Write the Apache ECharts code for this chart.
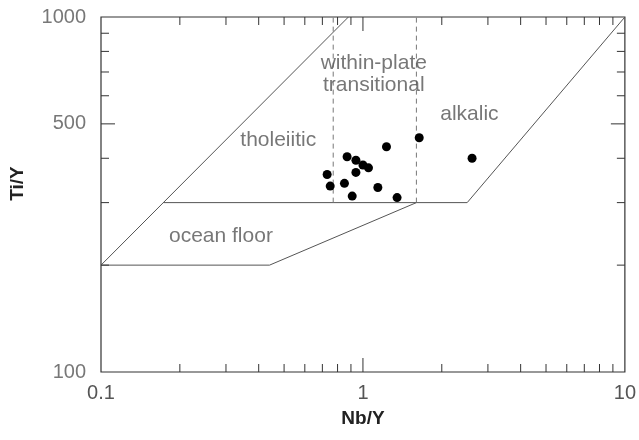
<!DOCTYPE html>
<html>
<head>
<meta charset="utf-8">
<script src="https://cdn.jsdelivr.net/npm/echarts@6/dist/echarts.min.js"></script>
<style>
  html, body { margin: 0; padding: 0; background: #fff; }
  #main { width: 639px; height: 440px; }
</style>
</head>
<body>
<div id="main"></div>
<script>
// sample points (Nb/Y, Ti/Y)
var sampleNbY = [0.73, 0.75, 0.87, 0.94, 0.94, 1.0, 1.05, 0.85, 0.91, 1.14, 1.23, 1.35, 1.64, 2.61];
var sampleTiY = [360, 334, 404, 395, 365, 383, 376, 340, 313, 331, 431, 310, 457, 400];

// field boundaries
var leftEdgeX = [0.1, 0.88];
var leftEdgeY = [200, 1000];
var baseRightX = [0.173, 2.5, 10];
var baseRightY = [300, 300, 1000];
var oceanX = [0.1, 0.44, 1.6];
var oceanY = [200, 200, 300];
var dashLeftX = [0.77, 0.77];
var dashRightX = [1.6, 1.6];
var dashY = [300, 1000];

// field names
var fieldNames = ['tholeiitic', 'within-plate\ntransitional', 'alkalic', 'ocean floor'];
var fieldX = [0.475, 1.1, 2.55, 0.287];
var fieldY = [450, 690, 533, 242];

// ticks
var xMinorTicks = [0.2, 0.3, 0.4, 0.5, 0.6, 0.7, 0.8, 0.9, 2, 3, 4, 5, 6, 7, 8, 9];
var xMajorTicks = [1];
var yMinorTicks = [200, 300, 400, 600, 700, 800, 900];
var yMajorTicks = [500];
var yLabels = [100, 500, 1000];

var xMin = 0.1, xMax = 10, yMin = 100, yMax = 1000;

function zip(xs, ys) {
  return xs.map(function (x, i) { return [x, ys[i]]; });
}

function lineSeries(xs, ys, dashed) {
  return {
    type: 'line',
    data: zip(xs, ys),
    symbol: 'none',
    silent: true,
    clip: false,
    lineStyle: dashed
      ? { color: '#777', width: 1, type: [5, 4] }
      : { color: '#555', width: 1 },
    z: 2
  };
}

function tickSeries(values, dim, len) {
  var data = values.map(function (v) {
    return dim === 'x' ? [v, yMin] : [xMin, v];
  });
  return {
    type: 'custom',
    silent: true,
    data: data,
    z: 3,
    renderItem: function (params, api) {
      var st = { stroke: '#333', lineWidth: 1 };
      if (dim === 'x') {
        var v = api.value(0);
        var b = api.coord([v, yMin]);
        var t = api.coord([v, yMax]);
        return { type: 'group', children: [
          { type: 'line', shape: { x1: b[0], y1: b[1], x2: b[0], y2: b[1] - len }, style: st },
          { type: 'line', shape: { x1: t[0], y1: t[1], x2: t[0], y2: t[1] + len }, style: st }
        ] };
      }
      var w = api.value(1);
      var l = api.coord([xMin, w]);
      var r = api.coord([xMax, w]);
      return { type: 'group', children: [
        { type: 'line', shape: { x1: l[0], y1: l[1], x2: l[0] + len, y2: l[1] }, style: st },
        { type: 'line', shape: { x1: r[0], y1: r[1], x2: r[0] - len, y2: r[1] }, style: st }
      ] };
    }
  };
}

var chart = echarts.init(document.getElementById('main'));

var option = {
  animation: false,
  backgroundColor: '#fff',
  textStyle: { fontFamily: 'Liberation Sans' },
  grid: {
    left: 96, right: 11, top: 17, bottom: 68,
    show: true, borderColor: '#333', borderWidth: 1.2, backgroundColor: 'transparent'
  },
  xAxis: {
    type: 'log', logBase: 10, min: xMin, max: xMax,
    name: 'Nb/Y', nameLocation: 'middle', nameGap: 37,
    nameTextStyle: { fontFamily: 'Liberation Sans', fontSize: 19, fontWeight: 'bold', color: '#222' },
    axisLine: { show: false },
    axisTick: { show: false },
    splitLine: { show: false },
    minorTick: { show: false },
    axisLabel: { fontFamily: 'Liberation Sans', fontSize: 20, color: '#555', margin: 11,
      formatter: function (v) { return String(+v.toPrecision(3)); } }
  },
  yAxis: {
    type: 'log', logBase: 10, min: yMin, max: yMax,
    name: 'Ti/Y', nameLocation: 'middle', nameGap: 74,
    nameTextStyle: { fontFamily: 'Liberation Sans', fontSize: 19, fontWeight: 'bold', color: '#222',
      padding: [0, 0, 0, 22] },
    axisLine: { show: false },
    axisTick: { show: false },
    splitLine: { show: false },
    axisLabel: { show: false }
  },
  series: [
    lineSeries(leftEdgeX, leftEdgeY, false),
    lineSeries(baseRightX, baseRightY, false),
    lineSeries(oceanX, oceanY, false),
    lineSeries(dashLeftX, dashY, true),
    lineSeries(dashRightX, dashY, true),
    tickSeries(xMinorTicks, 'x', 8),
    tickSeries(xMajorTicks, 'x', 14),
    tickSeries(yMinorTicks, 'y', 8),
    tickSeries(yMajorTicks, 'y', 14),
    {
      type: 'scatter',
      data: zip(sampleNbY, sampleTiY),
      symbol: 'circle',
      symbolSize: 9,
      itemStyle: { color: '#000', opacity: 1 },
      z: 5
    },
    {
      type: 'scatter',
      silent: true,
      clip: false,
      symbolSize: 0,
      data: fieldNames.map(function (n, i) { return { name: n, value: [fieldX[i], fieldY[i]] }; }),
      label: {
        show: true, position: 'inside', formatter: '{b}',
        fontFamily: 'Liberation Sans', fontSize: 21, color: '#555', lineHeight: 22, align: 'center'
      }
    },
    {
      type: 'scatter',
      silent: true,
      clip: false,
      symbolSize: 0,
      data: yLabels.map(function (v) { return [xMin, v]; }),
      label: {
        show: true, position: 'left', distance: 15,
        formatter: function (p) { return String(p.value[1]); },
        fontFamily: 'Liberation Sans', fontSize: 20, color: '#555'
      }
    }
  ]
};

chart.setOption(option);
</script>
</body>
</html>
